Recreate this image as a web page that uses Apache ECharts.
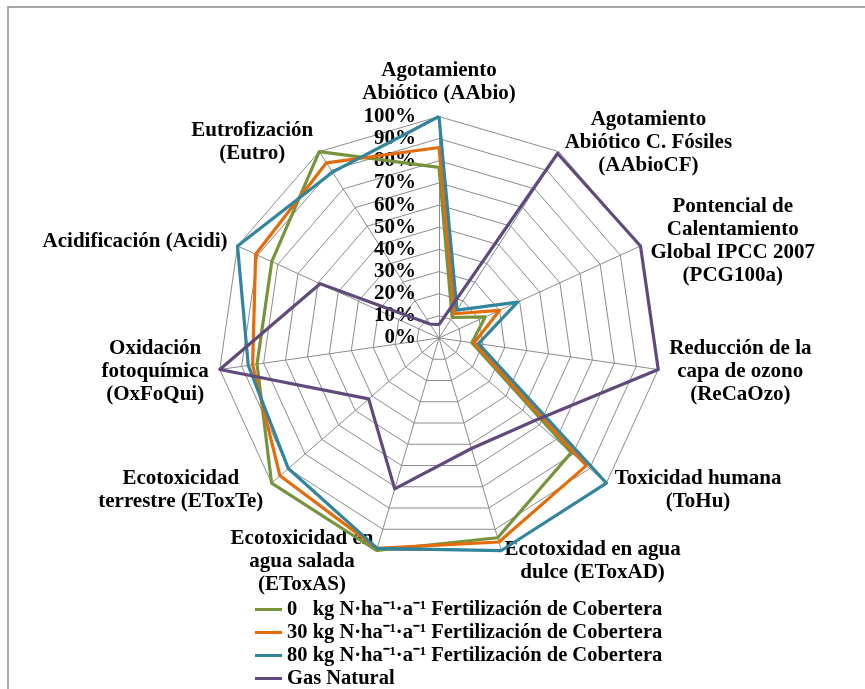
<!DOCTYPE html>
<html>
<head>
<meta charset="utf-8">
<script src="https://cdn.jsdelivr.net/npm/echarts@6/dist/echarts.min.js"></script>
<style>
  html, body { margin: 0; padding: 0; background: #fff; }
  #chart { width: 865px; height: 689px; }
</style>
</head>
<body>
<div id="chart"></div>
<script>
// Impact categories (axis names, line breaks as printed), listed clockwise from the top
const categories = [
  'Agotamiento\nAbiótico (AAbio)',
  'Agotamiento\nAbiótico C. Fósiles\n(AAbioCF)',
  'Pontencial de\nCalentamiento\nGlobal IPCC 2007\n(PCG100a)',
  'Reducción de la\ncapa de ozono\n(ReCaOzo)',
  'Toxicidad humana\n(ToHu)',
  'Ecotoxidad en agua\ndulce (EToxAD)',
  'Ecotoxicidad en\nagua salada\n(EToxAS)',
  'Ecotoxicidad\nterrestre (EToxTe)',
  'Oxidación\nfotoquímica\n(OxFoQui)',
  'Acidificación (Acidi)',
  'Eutrofización\n(Eutro)'
];

// Relative impact (% of the highest scenario) per category
const fert0  = [77, 11, 23, 15, 79, 94, 100, 100, 83, 83, 100];
const fert30 = [86, 13, 30, 16, 88, 96, 99, 95, 85, 91, 94];
const fert80 = [100, 15, 39, 18, 100, 100, 99, 90, 87, 100, 89];
const gasNatural = [6, 99, 100, 100, 57, 52, 71, 42, 100, 59, 7.5];

const seriesNames = [
  '0   kg N·ha⁻¹·a⁻¹ Fertilización de Cobertera',
  '30 kg N·ha⁻¹·a⁻¹ Fertilización de Cobertera',
  '80 kg N·ha⁻¹·a⁻¹ Fertilización de Cobertera',
  'Gas Natural'
];
const seriesColors = ['#77933C', '#E46C0A', '#31859C', '#604A7B'];

const scaleMax = 100;
const scaleSteps = 10;

const FONT = '"Liberation Serif", "Times New Roman", serif';

// ECharts lays radar axes out counter-clockwise; keep the first axis on top
// and reverse the rest so the categories run clockwise.
const order = [0].concat(categories.map((_, i) => i).slice(1).reverse());
const reorder = arr => order.map(i => arr[i]);

const indicators = reorder(categories).map((name, i) => {
  const ind = { name: name, min: 0, max: scaleMax };
  if (i === 0) {
    ind.axisLabel = {
      show: true,
      formatter: v => v + '%',
      fontFamily: FONT,
      fontWeight: 'bold',
      fontSize: 21,
      color: '#000',
      margin: 23,
      padding: [4, 0, 0, 0],
      showMinLabel: true,
      showMaxLabel: true
    };
  }
  return ind;
});

const values = [fert0, fert30, fert80, gasNatural];

const chart = echarts.init(document.getElementById('chart'), null, { renderer: 'canvas' });

chart.setOption({
  backgroundColor: '#fff',
  animation: false,
  graphic: [{
    type: 'polyline',
    shape: { points: [[8, 700], [8, 7], [870, 7]] },
    style: { stroke: '#8a8a8a', lineWidth: 1.5, fill: null },
    silent: true
  }],
  legend: {
    orient: 'vertical',
    left: 255,
    top: 598,
    height: 120,
    padding: 0,
    itemWidth: 27,
    itemHeight: 3,
    itemGap: 0,
    icon: 'rect',
    data: seriesNames,
    textStyle: {
      fontFamily: FONT,
      fontWeight: 'bold',
      fontSize: 20.5,
      lineHeight: 23,
      color: '#000'
    }
  },
  radar: {
    center: [439, 338],
    radius: 221.5,
    startAngle: 90,
    shape: 'polygon',
    splitNumber: scaleSteps,
    nameGap: 11,
    indicator: indicators,
    axisName: {
      color: '#000',
      formatter: name => name.split('\n').map(l => '{c|' + l + '}').join('\n'),
      rich: {
        c: {
          align: 'center',
          fontFamily: FONT,
          fontWeight: 'bold',
          fontSize: 21,
          lineHeight: 23,
          color: '#000'
        }
      }
    },
    axisLine: { show: true, lineStyle: { color: '#8c8c8c', width: 1 } },
    splitLine: { show: true, lineStyle: { color: '#8c8c8c', width: 1 } },
    splitArea: { show: false },
    axisTick: { show: false },
    axisLabel: { show: false }
  },
  series: [{
    type: 'radar',
    symbol: 'none',
    data: values.map((v, i) => ({
      name: seriesNames[i],
      value: reorder(v),
      lineStyle: { color: seriesColors[i], width: 3.2 },
      itemStyle: { color: seriesColors[i] }
    }))
  }]
});
</script>
</body>
</html>
